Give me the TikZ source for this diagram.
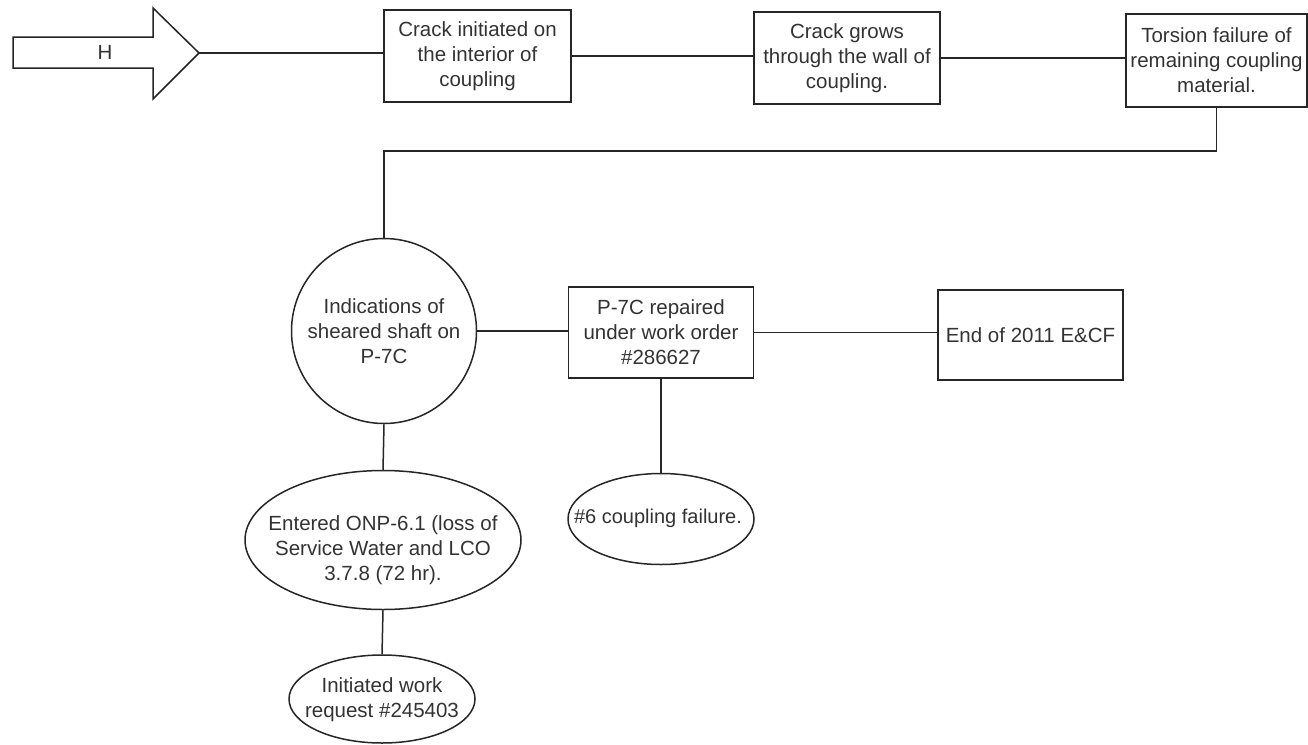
\documentclass[tikz,border=0pt]{standalone}
\usepackage{fontspec}
\setmainfont{Liberation Sans}
\usetikzlibrary{shapes.geometric}
\tikzset{
  ink/.style={draw=black!85, line width=1.5pt},
  lbl/.style={font=\fontsize{20.5}{25}\selectfont, text=black!80, align=center},
  stepbox/.style={ink, lbl, rectangle, inner sep=0pt, minimum width=187pt, minimum height=92pt},
  circnode/.style={ink, lbl, circle, inner sep=0pt, minimum size=185pt},
  ovalnode/.style={ink, ellipse, inner sep=0pt},
  link/.style={draw=black!85, line width=1.5pt},
}
\begin{document}
\begin{tikzpicture}[x=1pt, y=-1pt]
  \useasboundingbox (0,0) rectangle (1308,744);
  \fill[white] (0,0) rectangle (1308,744);

  % block arrow carrying the label H
  \draw[ink, fill=white, line join=miter]
    (13,37) -- (153,37) -- (153,8) -- (199,53) -- (153,99) -- (153,68) -- (13,68) -- cycle;
  \node[lbl] (harrow) at (105,52) {H};
  \coordinate (htip) at (199,53);

  % top row
  \node[stepbox] (b1) at (477.5,56) {Crack initiated on\\the interior of\\coupling};
  \node[stepbox, minimum width=186pt] (b2) at (847,58) {Crack grows\\through the wall of\\coupling.};
  \node[stepbox, minimum width=181pt, minimum height=93pt] (b3) at (1216.5,60.5) {Torsion failure of\\remaining coupling\\material.};

  % middle row
  \node[circnode] (circ) at (384,331) {Indications of\\sheared shaft on\\P-7C};
  \node[stepbox, minimum width=185pt, minimum height=91pt] (b4) at (661,332.5) {P-7C repaired\\under work order\\\#286627};
  \node[stepbox, minimum width=185pt, minimum height=90pt] (b5) at (1030.5,335) {End of 2011 E\&CF};

  % lower ovals, each outline with its text set on top
  \node[ovalnode, minimum width=276pt, minimum height=139pt] (e1) at (383,540) {};
  \node[lbl] (e1t) at (383,550) {Entered ONP-6.1 (loss of\\Service Water and LCO\\3.7.8 (72 hr).};
  \node[ovalnode, minimum width=186pt, minimum height=91pt] (e2) at (661,519) {};
  \node[lbl, font=\fontsize{20}{25}\selectfont] (e2t) at (658,518) {\#6 coupling failure.};
  \node[ovalnode, minimum width=186pt, minimum height=88pt] (e3) at (382,699) {};
  \node[lbl] (e3t) at (382,700) {Initiated work\\request \#245403};

  % connectors
  \draw[link] (htip) -- (htip -| b1.west);
  \draw[link] (b1.east) -- (b1.east -| b2.west);
  \draw[link] (b2.east) -- (b2.east -| b3.west);
  \draw[link] (b3.south) -- ++(0,43) -| (circ.north);
  \draw[link] (circ.east) -- (circ.east -| b4.west);
  \draw[link] (b4.east) -- (b4.east -| b5.west);
  \draw[link] (b4.south) -- (e2.north);
  \draw[link] (circ.south) -- (e1.north);
  \draw[link] (e1.south) -- (e3.north);
\end{tikzpicture}
\end{document}
